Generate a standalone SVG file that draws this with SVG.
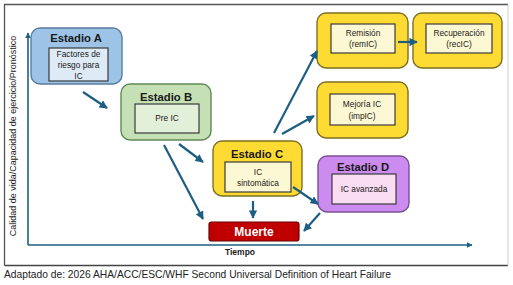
<svg xmlns="http://www.w3.org/2000/svg" width="513" height="285" viewBox="0 0 513 285">
<defs>
<marker id="ah" viewBox="0 0 10 10" refX="9" refY="5" markerWidth="3.8" markerHeight="3.8" orient="auto" markerUnits="strokeWidth">
<path d="M0,0 L10,5 L0,10 Z" fill="#1d5f82"/>
</marker>
<style>
text{font-family:"Liberation Sans",Arial,sans-serif;text-anchor:middle;fill:#1a1a1a}
.t{font-weight:bold;font-size:11.3px}
.i{font-size:8.3px}
.inner{stroke:#3a3a3a;stroke-width:1.2}
.ylw{fill:#fedb33;stroke:#7d6f22;stroke-width:1.4}
.cream{fill:#fdf8d4}
.con line,.con path{stroke:#1d5f82;stroke-width:2.2;fill:none;marker-end:url(#ah)}
</style>
</defs>
<rect width="513" height="285" fill="#fff"/>
<!-- frame -->
<path d="M4.5,265.5 V4.5 H508" fill="none" stroke="#555" stroke-width="1.3"/>
<path d="M4.5,265.5 H508" fill="none" stroke="#444" stroke-width="1.3"/>
<path d="M508,4.5 V265.5" fill="none" stroke="#ccc" stroke-width="1"/>
<!-- axes -->
<g id="axes">
<line x1="28" y1="245" x2="28" y2="33" stroke="#1d5f82" stroke-width="1.6" marker-end="url(#ah)"/>
<line x1="28" y1="245" x2="472" y2="245" stroke="#1d5f82" stroke-width="1.6" marker-end="url(#ah)"/>
<text x="240" y="255" style="font-size:8.5px;font-weight:600">Tiempo</text>
<text transform="translate(16,136) rotate(-90)" style="font-size:9px">Calidad de vida/Capacidad de ejercicio/Pronóstico</text>
</g>
<g id="estadioA">
<rect x="31" y="28" width="91" height="56" rx="9" fill="#9dc3e6" stroke="#5a7ea0" stroke-width="1.4"/>
<rect x="49" y="48" width="59" height="33" fill="#deebf7" class="inner"/>
<text class="t" x="76" y="42">Estadio A</text>
<text class="i" x="78.5" y="57">Factores de</text>
<text class="i" x="78.5" y="68">riesgo para</text>
<text class="i" x="78.5" y="79">IC</text>
</g>
<g id="estadioB">
<rect x="121" y="84" width="90" height="56" rx="9" fill="#c5e0b4" stroke="#5d8a55" stroke-width="1.4"/>
<rect x="135" y="104" width="64" height="29" fill="#e2f0d9" class="inner"/>
<text class="t" x="166" y="101">Estadio B</text>
<text class="i" x="167" y="121">Pre IC</text>
</g>
<g id="estadioC">
<rect x="213" y="141" width="89" height="55" rx="9" class="ylw"/>
<rect x="225" y="162" width="66" height="30" class="inner cream"/>
<text class="t" x="257" y="158">Estadio C</text>
<text class="i" x="258" y="175">IC</text>
<text class="i" x="258" y="186">sintomática</text>
</g>
<g id="estadioD">
<rect x="318" y="156" width="91" height="56" rx="9" fill="#cc8cef" stroke="#7a4f95" stroke-width="1.4"/>
<rect x="332" y="174" width="64" height="30" fill="#fadcf2" class="inner"/>
<text class="t" x="363" y="171">Estadio D</text>
<text class="i" x="364" y="192">IC avanzada</text>
</g>
<g id="remision">
<rect x="317" y="13" width="91" height="55" rx="9" class="ylw"/>
<rect x="331" y="24" width="64" height="29" class="inner cream"/>
<text class="i" x="363" y="36">Remisión</text>
<text class="i" x="363" y="47">(remIC)</text>
</g>
<g id="recuperacion">
<rect x="413" y="13" width="89" height="55" rx="9" class="ylw"/>
<rect x="426" y="24" width="66" height="29" class="inner cream"/>
<text class="i" x="459" y="36">Recuperación</text>
<text class="i" x="459" y="47">(recIC)</text>
</g>
<g id="mejoria">
<rect x="317" y="82" width="91" height="56" rx="9" class="ylw"/>
<rect x="330" y="94" width="65" height="31" class="inner cream"/>
<text class="i" x="362" y="107">Mejoría IC</text>
<text class="i" x="362" y="119">(impIC)</text>
</g>
<g id="muerte">
<rect x="209" y="222" width="90" height="19" rx="2.5" fill="#c00000" stroke="#6e0000" stroke-width="1.2"/>
<text x="254" y="236" style="font-size:12px;font-weight:bold;fill:#fff">Muerte</text>
</g>
<g id="connectors" class="con">
<line x1="83" y1="92" x2="107" y2="108"/>
<line x1="179" y1="144" x2="203" y2="162"/>
<line x1="164" y1="145" x2="203" y2="219"/>
<line x1="253" y1="201" x2="253" y2="218"/>
<line x1="293" y1="187" x2="318" y2="204"/>
<line x1="320" y1="213" x2="304" y2="231"/>
<line x1="274" y1="133" x2="317" y2="51"/>
<line x1="282" y1="134" x2="314" y2="116"/>
<line x1="398" y1="42" x2="417" y2="42"/>
</g>
<text x="4" y="278" textLength="387" lengthAdjust="spacingAndGlyphs" style="text-anchor:start;font-size:10.5px;fill:#222">Adaptado de: 2026 AHA/ACC/ESC/WHF Second Universal Definition of Heart Failure</text>
</svg>
